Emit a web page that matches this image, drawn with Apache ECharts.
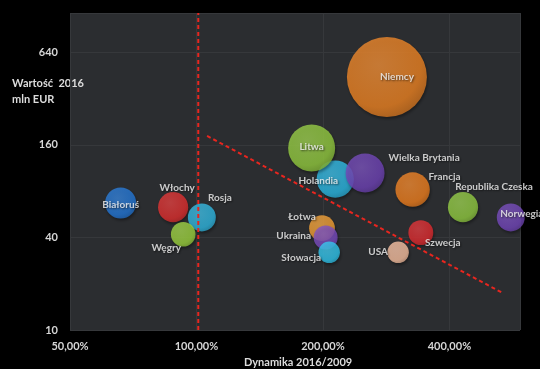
<!DOCTYPE html>
<html><head><meta charset="utf-8">
<script src="https://cdn.jsdelivr.net/npm/echarts@6/dist/echarts.min.js"></script>
<style>html,body{margin:0;padding:0;background:#000;}#c{width:540px;height:369px;}</style>
</head><body><div id="c"></div>
<script>
// ---- data ----
const countries = ['Białoruś','Włochy','Rosja','Węgry','Łotwa','Ukraina','Słowacja','USA','Szwecja','Holandia','Litwa','Wielka Brytania','Francja','Republika Czeska','Norwegia','Niemcy'];
const dynamika  = [66, 88, 103, 93, 199, 203, 207, 302, 342, 214, 188, 252, 327, 431, 560, 284]; // % 2016/2009
const wartosc   = [67, 63, 54, 42, 46, 40, 32, 32, 43, 96, 153, 105, 82, 63, 54, 443];          // mln EUR 2016
const xTickValues = [50, 100, 200, 400];   // %
const yTickValues = [10, 40, 160, 640];    // mln EUR
const xRange = [50, 589];
const yRange = [10, 1155];
const refVerticalX = [101, 101];
const refVerticalY = [10, 1155];
const refTrendX = [106, 536];
const refTrendY = [183, 17.4];

// ---- styles (not data) ----
const colors = ['#2478d8','#e03030','#30b8e2','#9cd23e','#f4a034','#7a4cc0','#30c6ee','#f8c0a0','#e02c30','#2cbae6','#94cc40','#7044b8','#f08020','#92cc42','#7448bc','#ee8424'];
const labelOffsets = [[0,2],[4,-19],[18,-20],[-17,14],[-20,-11],[-32,-2],[-28,5],[-20,-1],[22,10],[-17,2],[0,-1],[59,-15],[32,-13],[31,-20],[11,-4],[10,0]];

function shade(hex, f){
  let r=parseInt(hex.substr(1,2),16), g=parseInt(hex.substr(3,2),16), b=parseInt(hex.substr(5,2),16);
  if(f>0){ r=r+(255-r)*f; g=g+(255-g)*f; b=b+(255-b)*f; }
  else { r=r*(1+f); g=g*(1+f); b=b*(1+f); }
  return 'rgb('+Math.round(r)+','+Math.round(g)+','+Math.round(b)+')';
}

// x stored as ratio (log base 2 -> ticks 0.5,1,2,4); y stored in tens (log base 4 -> ticks 1,4,16,64)
const toX = v => v/100;
const toY = v => v/10;

const bubbles = countries.map((n,i)=>({
  name: n,
  value: [toX(dynamika[i]), toY(wartosc[i]), wartosc[i]],
  itemStyle: {
    color: {type:'radial', x:0.4, y:0.35, r:0.7, colorStops:[
      {offset:0, color: shade(colors[i], 0.1)},
      {offset:0.75, color: colors[i]},
      {offset:1, color: shade(colors[i], -0.15)}
    ]},
    shadowColor:'rgba(0,0,0,0.45)', shadowBlur:3, shadowOffsetX:1, shadowOffsetY:2
  },
  label: {offset: labelOffsets[i]}
}));

const chart = echarts.init(document.getElementById('c'), null, {renderer:'canvas'});
const fmtX = v => { const p=v*100; for(const t of xTickValues){ if(Math.abs(p-t)<0.01) return t.toFixed(2).replace('.',',')+'%'; } return ''; };
const fmtY = v => { const p=v*10; for(const t of yTickValues){ if(Math.abs(p-t)<0.01) return String(t); } return ''; };

chart.setOption({
  backgroundColor:'#000',
  animation:false,
  grid:{left:70, right:20, top:13, bottom:39, show:true, backgroundColor:'#2b2d30', borderWidth:0},
  xAxis:{type:'log', logBase:2, min:toX(xRange[0]), max:toX(xRange[1]),
    axisLine:{show:false}, axisTick:{show:false},
    splitLine:{show:true, lineStyle:{color:'#36383b', width:1}},
    axisLabel:{formatter:fmtX, color:'#d6d6d6', fontSize:11, fontFamily:'Lato', fontWeight:'bold', margin:11, showMaxLabel:false}
  },
  yAxis:{type:'log', logBase:4, min:toY(yRange[0]), max:toY(yRange[1]),
    axisLine:{show:false}, axisTick:{show:false},
    splitLine:{show:true, lineStyle:{color:'#36383b', width:1}},
    axisLabel:{formatter:fmtY, color:'#d6d6d6', fontSize:11, fontFamily:'Lato', fontWeight:'bold', margin:12, showMaxLabel:false}
  },
  graphic:[
    {type:'text', left:12, top:75, style:{text:'Wartość  2016\nmln EUR', fill:'#dcdcdc', font:'bold 11px Lato', lineHeight:16}},
    {type:'text', left:244, top:357, style:{text:'Dynamika 2016/2009', fill:'#dcdcdc', font:'bold 11px Lato'}}
  ],
  series:[
    {type:'scatter', data:bubbles, z:2,
      symbolSize: d => 80*Math.sqrt(d[2]/443),
      label:{show:true, position:'inside', formatter:'{b}', color:'#f4f4f4', fontSize:10, fontWeight:'bold', fontFamily:'Lato',
        textShadowColor:'rgba(0,0,0,0.7)', textShadowBlur:2, textShadowOffsetX:1, textShadowOffsetY:1},
      emphasis:{disabled:true}
    },
    {type:'line', z:5, symbol:'none', silent:true,
      data: refVerticalX.map((v,i)=>[toX(v), toY(refVerticalY[i])]),
      lineStyle:{color:'#e8261f', width:2, type:[4,3]}
    },
    {type:'line', z:5, symbol:'none', silent:true,
      data: refTrendX.map((v,i)=>[toX(v), toY(refTrendY[i])]),
      lineStyle:{color:'#e8261f', width:2, type:[4,3]}
    }
  ]
});
</script></body></html>
